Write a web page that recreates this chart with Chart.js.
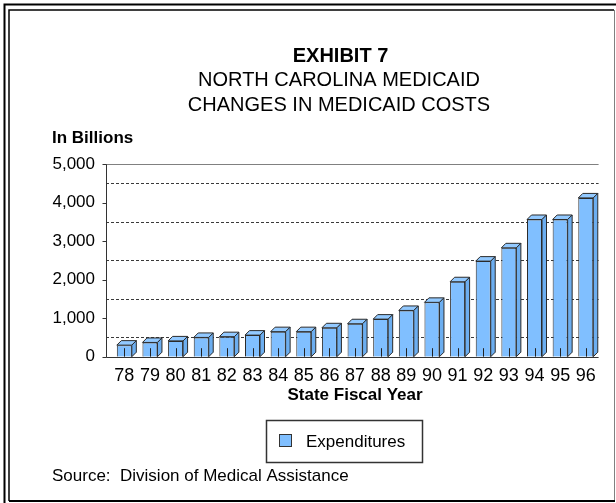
<!DOCTYPE html>
<html>
<head>
<meta charset="utf-8">
<title>Medicaid Costs</title>
<script src="https://cdn.jsdelivr.net/npm/chart.js@4.4.1/dist/chart.umd.min.js"></script>
<style>
    html, body { margin: 0; padding: 0; background: #fff; }
    canvas { display: block; }
</style>
</head>
<body>
<canvas id="grafikBiaya" width="616" height="503"></canvas>
<script>
const fontFamily = "'Liberation Sans', Arial, Helvetica, sans-serif";

const years = ['78', '79', '80', '81', '82', '83', '84', '85', '86', '87', '88', '89', '90', '91', '92', '93', '94', '95', '96'];
const expenditures = [300, 370, 410, 500, 520, 560, 650, 650, 750, 855, 975, 1200, 1410, 1945, 2480, 2825, 3560, 3560, 4120];
const yTickValues = [0, 1000, 2000, 3000, 4000, 5000];
const dashedGridValues = [500, 1500, 2500, 3500, 4500];

const titleLines = ['EXHIBIT 7', 'NORTH CAROLINA MEDICAID', 'CHANGES IN MEDICAID COSTS'];
const yAxisLabel = 'In Billions';
const xAxisLabel = 'State Fiscal Year';
const seriesLabel = 'Expenditures';
const sourceNote = 'Source:  Division of Medical Assistance';

const barFront = '#80BFFF';
const barTop = '#92C9FF';
const barSide = '#6CAEF0';
const edgeColor = '#2b2b2b';
const wallOffset = 5.5;   // back wall sits left of the first category band
const depthX = 4.5;
const depthY = 4.5;

// grid, axis lines and the little ticks on the left of the value axis
const gridPlugin = {
    id: 'grid3d',
    beforeDatasetsDraw(chart) {
        let ctx = chart.ctx;
        let area = chart.chartArea;
        let y = chart.scales.y;
        let axisX = area.left - wallOffset;
        ctx.save();
        ctx.lineWidth = 1;
        ctx.setLineDash([3, 2]);
        ctx.strokeStyle = '#3a3a3a';
        dashedGridValues.forEach(function (v) {
            let py = Math.round(y.getPixelForValue(v)) + 0.5;
            ctx.beginPath();
            ctx.moveTo(axisX, py);
            ctx.lineTo(area.right, py);
            ctx.stroke();
        });
        ctx.setLineDash([]);
        let topY = Math.round(y.getPixelForValue(yTickValues[yTickValues.length - 1])) + 0.5;
        ctx.strokeStyle = '#808080';
        ctx.beginPath();
        ctx.moveTo(axisX, topY);
        ctx.lineTo(area.right, topY);
        ctx.stroke();

        let baseY = Math.round(y.getPixelForValue(0)) + 0.5;
        let ax = Math.round(axisX) + 0.5;
        ctx.strokeStyle = '#333';
        ctx.beginPath();
        ctx.moveTo(ax, topY);
        ctx.lineTo(ax, baseY);
        ctx.lineTo(area.right, baseY);
        ctx.stroke();
        yTickValues.forEach(function (v) {
            let py = Math.round(y.getPixelForValue(v)) + 0.5;
            ctx.beginPath();
            ctx.moveTo(ax - 4, py);
            ctx.lineTo(ax, py);
            ctx.stroke();
        });
        ctx.restore();
    },
    afterDatasetsDraw(chart) {
        let ctx = chart.ctx;
        let meta = chart.getDatasetMeta(0);
        ctx.save();
        ctx.lineWidth = 1;
        ctx.strokeStyle = edgeColor;
        ctx.lineJoin = 'round';
        meta.data.forEach(function (bar) {
            let p = bar.getProps(['x', 'y', 'base', 'width'], true);
            let left = p.x - p.width / 2;
            let right = p.x + p.width / 2;
            ctx.fillStyle = barTop;
            ctx.beginPath();
            ctx.moveTo(left, p.y);
            ctx.lineTo(left + depthX, p.y - depthY);
            ctx.lineTo(right + depthX, p.y - depthY);
            ctx.lineTo(right, p.y);
            ctx.closePath();
            ctx.fill();
            ctx.stroke();
            ctx.fillStyle = barSide;
            ctx.beginPath();
            ctx.moveTo(right, p.y);
            ctx.lineTo(right + depthX, p.y - depthY);
            ctx.lineTo(right + depthX, p.base - depthY);
            ctx.lineTo(right, p.base);
            ctx.closePath();
            ctx.fill();
            ctx.stroke();
        });
        // category ticks point up into the bars
        let x = chart.scales.x;
        let baseY = chart.scales.y.getPixelForValue(0);
        ctx.strokeStyle = '#222';
        years.forEach(function (yr, i) {
            let px = Math.round(x.getPixelForTick(i)) + 0.5;
            ctx.beginPath();
            ctx.moveTo(px, baseY);
            ctx.lineTo(px, baseY - 8.5);
            ctx.stroke();
        });
        ctx.restore();
    }
};

// frame, headings, legend box and source line
const decorPlugin = {
    id: 'decor',
    afterDraw(chart) {
        let ctx = chart.ctx;
        ctx.save();
        ctx.strokeStyle = '#000';
        ctx.lineWidth = 2;
        ctx.beginPath();
        ctx.moveTo(4.5, 503);
        ctx.lineTo(4.5, 4.5);
        ctx.lineTo(616, 4.5);
        ctx.stroke();
        ctx.lineWidth = 1.5;
        ctx.beginPath();
        ctx.moveTo(9, 501);
        ctx.lineTo(9, 10);
        ctx.lineTo(614, 10);
        ctx.stroke();
        ctx.strokeStyle = '#808080';
        ctx.lineWidth = 1;
        ctx.beginPath();
        ctx.moveTo(614.5, 10);
        ctx.lineTo(614.5, 501);
        ctx.stroke();
        ctx.strokeStyle = '#000';
        ctx.lineWidth = 2;
        ctx.beginPath();
        ctx.moveTo(9, 501);
        ctx.lineTo(615, 501);
        ctx.stroke();

        ctx.fillStyle = '#000';
        ctx.textAlign = 'center';
        ctx.textBaseline = 'alphabetic';
        ctx.font = 'bold 20px ' + fontFamily;
        ctx.fillText(titleLines[0], 340.5, 61.5);
        ctx.font = '20px ' + fontFamily;
        ctx.fillText(titleLines[1], 339, 86);
        ctx.fillText(titleLines[2], 339, 111);

        ctx.textAlign = 'left';
        ctx.font = 'bold 17px ' + fontFamily;
        ctx.fillText(yAxisLabel, 52, 143);

        ctx.strokeStyle = '#333';
        ctx.lineWidth = 1.5;
        ctx.strokeRect(266.5, 420.5, 156, 42);
        ctx.fillStyle = chart.data.datasets[0].backgroundColor;
        ctx.fillRect(279.5, 434.5, 12, 12);
        ctx.lineWidth = 1;
        ctx.strokeRect(279.5, 434.5, 12, 12);
        ctx.fillStyle = '#000';
        ctx.font = '17px ' + fontFamily;
        ctx.fillText(chart.data.datasets[0].label, 306, 447);

        ctx.font = '17px ' + fontFamily;
        ctx.fillText(sourceNote, 52, 481);
        ctx.restore();
    }
};

function tampilGrafik() {
    let canvas = document.getElementById('grafikBiaya');
    new Chart(canvas, {
        type: 'bar',
        data: {
            labels: years,
            datasets: [{
                label: seriesLabel,
                data: expenditures,
                backgroundColor: barFront,
                borderColor: edgeColor,
                borderWidth: 1,
                barPercentage: 0.585,
                categoryPercentage: 1
            }]
        },
        options: {
            responsive: false,
            animation: false,
            devicePixelRatio: 1,
            layout: {
                padding: { top: 164, right: 17.4, bottom: 97, left: 10 }
            },
            plugins: {
                legend: { display: false },
                tooltip: { enabled: false }
            },
            scales: {
                x: {
                    grid: { display: false, drawTicks: false },
                    border: { display: false },
                    ticks: {
                        color: '#000',
                        padding: 9,
                        maxRotation: 0,
                        autoSkip: false,
                        font: { family: fontFamily, size: 18 }
                    },
                    title: {
                        display: true,
                        text: xAxisLabel,
                        color: '#000',
                        padding: 0,
                        font: { family: fontFamily, size: 17, weight: 'bold' }
                    },
                    afterFit: function (scale) {
                        scale.height = 49.3;
                    }
                },
                y: {
                    min: 0,
                    max: 5000,
                    grid: { display: false, drawTicks: false },
                    border: { display: false },
                    afterBuildTicks: function (scale) {
                        scale.ticks = yTickValues.map(function (v) { return { value: v }; });
                    },
                    ticks: {
                        color: '#000',
                        padding: 16.5,
                        font: { family: fontFamily, size: 17 },
                        callback: function (value) {
                            return value.toLocaleString('en-US');
                        }
                    },
                    afterFit: function (scale) {
                        scale.width = 101.5;
                    }
                }
            }
        },
        plugins: [gridPlugin, decorPlugin]
    });
}

tampilGrafik();
</script>
</body>
</html>
